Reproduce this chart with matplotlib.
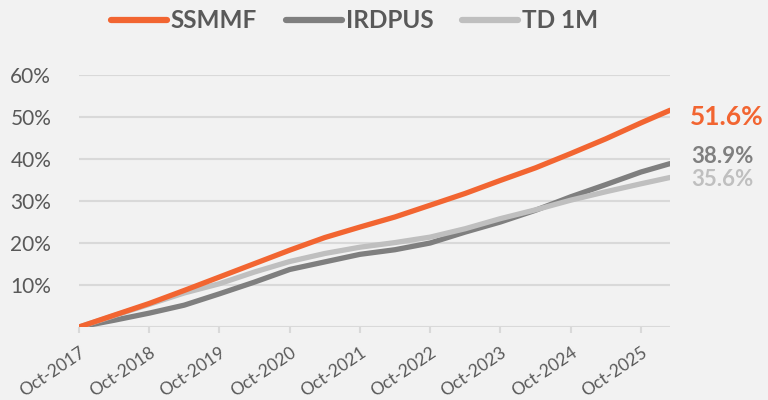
import numpy as np
import pandas as pd
import matplotlib
matplotlib.use("Agg")
import matplotlib.pyplot as plt

# datos (rendimiento acumulado, %)
dates = ["2017-10-01", "2018-04-01", "2018-10-01", "2019-04-01", "2019-10-01",
         "2020-04-01", "2020-10-01", "2021-04-01", "2021-10-01", "2022-04-01",
         "2022-10-01", "2023-04-01", "2023-10-01", "2024-04-01", "2024-10-01",
         "2025-04-01", "2025-10-01", "2026-03-01"]
ssmmf = [0.0, 2.8, 5.6, 8.7, 11.9, 15.1, 18.3, 21.3, 23.8, 26.2,
         29.0, 31.8, 34.9, 37.9, 41.3, 44.8, 48.6, 51.6]
irdpus = [0.0, 1.6, 3.3, 5.2, 7.9, 10.7, 13.7, 15.5, 17.3, 18.4,
          20.0, 22.6, 25.0, 27.8, 31.0, 33.9, 36.9, 38.9]
td1m = [0.0, 2.7, 5.4, 8.1, 10.3, 13.1, 15.6, 17.5, 19.0, 20.1,
        21.4, 23.4, 25.8, 27.9, 30.2, 32.2, 34.1, 35.6]
series = ["SSMMF", "IRDPUS", "TD 1M"]
tick_years = list(range(2017, 2026))

colores = ["#F26531", "#7F7F7F", "#BFBFBF"]
bg = "#F2F2F2"
txt = "#595959"

plt.rcParams["font.family"] = ["Lato", "DejaVu Sans"]

x = pd.to_datetime(dates)
fig = plt.figure(figsize=(7.68, 4.0), dpi=100, facecolor=bg)
ax = fig.add_axes([79/768, 1 - 327/400, (670 - 79)/768, (327 - 75)/400])
ax.set_facecolor(bg)

lineas = []
for vals, c, nombre in zip([ssmmf, irdpus, td1m], colores, series):
    l, = ax.plot(x, np.array(vals) / 100, color=c, lw=3.8,
                 solid_capstyle="round", solid_joinstyle="round",
                 label=nombre, zorder=3)
    lineas.append(l)
# el naranja va encima
lineas[0].set_zorder(5)

ax.set_xlim(x[0], x[-1])
ax.set_ylim(0, 0.6)
ax.set_yticks([0.1, 0.2, 0.3, 0.4, 0.5, 0.6])
ax.set_yticklabels(["10%", "20%", "30%", "40%", "50%", "60%"])
ax.grid(axis="y", color="#D9D9D9", lw=1.5)
ax.set_axisbelow(True)
ax.axhline(0, color="#D9D9D9", lw=1.5, zorder=1)

xt = pd.to_datetime([f"{y}-10-01" for y in tick_years])
ax.set_xticks(xt)
ax.set_xticklabels([f"Oct-{y}" for y in tick_years], rotation=34,
                   ha="right", rotation_mode="anchor")
ax.tick_params(axis="x", length=4.5, width=1.5, color="#D9D9D9",
               labelsize=12.5, labelcolor=txt, pad=8)
ax.tick_params(axis="y", length=0, labelsize=15, labelcolor=txt, pad=20)
for s in ax.spines.values():
    s.set_visible(False)

# etiquetas finales
ax.annotate("51.6%", (x[-1], 0.516), xytext=(14, -10.6), textcoords="offset points",
            color=colores[0], fontsize=19, fontweight="bold", va="baseline")
ax.annotate("38.9%", (x[-1], 0.389), xytext=(15, 0.5), textcoords="offset points",
            color=colores[1], fontsize=16, fontweight="bold", va="baseline")
ax.annotate("35.6%", (x[-1], 0.356), xytext=(15, -5.9), textcoords="offset points",
            color=colores[2], fontsize=16, fontweight="bold", va="baseline")

leg = fig.legend(handles=lineas, loc="center", bbox_to_anchor=(354.5/768, 1 - 21/400),
                 ncol=3, frameon=False, fontsize=17.5, handlelength=2.3,
                 handletextpad=0.16, columnspacing=1.2, borderpad=0)
for t in leg.get_texts():
    t.set_color(txt)
    t.set_fontweight("bold")
for h in leg.legend_handles:
    h.set_linewidth(4.5)
    h.set_solid_capstyle("round")

fig.savefig("out.png", dpi=100, facecolor=bg)
